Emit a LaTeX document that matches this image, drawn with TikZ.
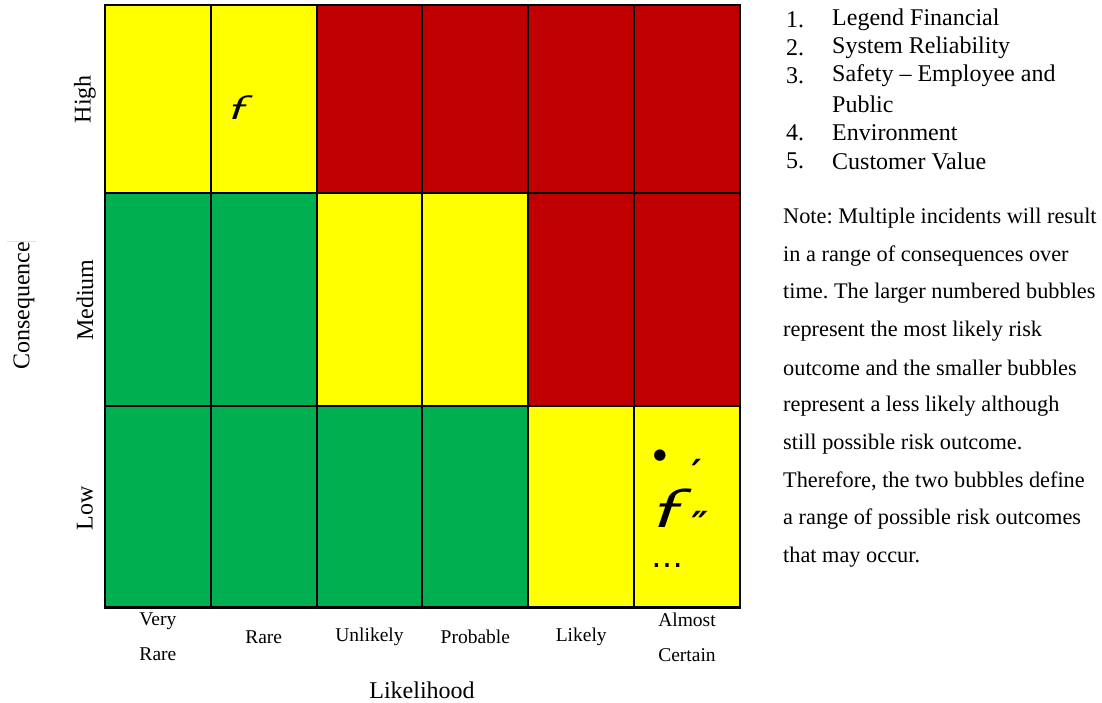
\documentclass[tikz,border=0pt]{standalone}
\usepackage{fontspec}
\setmainfont{Liberation Serif}
\newfontfamily\symfont{DejaVu Sans}
\definecolor{riskY}{HTML}{FFFF00}
\definecolor{riskR}{HTML}{C00000}
\definecolor{riskG}{HTML}{00B050}
\frenchspacing
\tikzset{
  cell/.style={draw=black, line width=2pt, minimum width=105.83pt, inner sep=0pt, outer sep=0pt},
  tick/.style={font=\fontsize{19.5}{35}\selectfont, align=center, inner sep=0pt},
  axis/.style={font=\fontsize{24}{28}\selectfont, inner sep=0pt},
  legnum/.style={font=\fontsize{24}{28}\selectfont, anchor=west, inner sep=0pt},
  legtxt/.style={font=\fontsize{24}{28}\selectfont, anchor=west, inner sep=0pt},
  note/.style={font=\fontsize{22.3}{26}\selectfont, anchor=west, inner sep=0pt},
  hookf/.style={font=\sffamily\itshape, inner sep=0pt, xscale=1.6},
  glyph/.style={font=\symfont, inner sep=0pt},
}
\begin{document}
\begin{tikzpicture}[x=1pt,y=-1pt]
\useasboundingbox (0,0) rectangle (1102,702);
% grid cells
\foreach \r/\cy/\h/\cols in {h/99/188/{riskY,riskY,riskR,riskR,riskR,riskR},
                             m/299.5/213/{riskG,riskG,riskY,riskY,riskR,riskR},
                             l/506.5/202/{riskG,riskG,riskG,riskG,riskY,riskY}}{
  \foreach \c [count=\i] in \cols {
    \node[cell, fill=\c, minimum height=\h pt] (cell-\r-\i) at ({105+(\i-0.5)*105.83},\cy) {};
  }
}
% outer border
\draw[line width=2.4pt] (105,5) rectangle (740,607);
% symbols in cells
\node[hookf] (fa) at (235,108) {\fontsize{34}{34}\selectfont ƒ};
\node[glyph] (bul) at (660,456) {\fontsize{15}{15}\selectfont ●};
\node[glyph, xslant=0.2] (pr1) at (695,472) {\fontsize{36}{36}\selectfont\bfseries ′};
\node[hookf] (fb) at (663,508) {\fontsize{55}{55}\selectfont ƒ};
\node[glyph, xslant=0.2] (pr2) at (698,524) {\fontsize{36}{36}\selectfont\bfseries ″};
\node[glyph] (ell) at (667,566) {\fontsize{32}{32}\selectfont …};
% row labels
\node[axis, rotate=90] (lhigh) at (85,99) {High};
\node[axis, rotate=90] (lmed) at (85,300) {Medium};
\node[axis, rotate=90] (llow) at (85,508) {Low};
\node[axis, rotate=90] (lcons) at (24,306) {Consequence};
\coordinate (ya) at (7,241);
\coordinate (yb) at (36,241);
\draw[riskY, line width=1pt] (ya) -- (yb);
% column labels
\node[tick] (t1) at (157.9,637) {Very\\Rare};
\node[tick] (t2) at (263.7,637) {Rare};
\node[tick] (t3) at (369.5,637) {Unlikely};
\node[tick] (t4) at (475.4,637) {Probable};
\node[tick] (t5) at (581.2,637) {Likely};
\node[tick] (t6) at (687,637) {Almost\\Certain};
\node[axis] (lik) at (422,690) {Likelihood};
% legend
\foreach \n/\y/\t in {1./20/Legend Financial, 2./48/System Reliability,
                      3./76/Safety – Employee and, 4./133/Environment, 5./161/Customer Value}{
  \node[legnum] (num\n) at (786,\y) {\n};
  \node[legtxt] (txt\n) at (832,\y) {\t};
}
\node[legtxt] (txtpub) at (832,104) {Public};
% note
\foreach \y/\t [count=\k] in {218/Note: Multiple incidents will result,
  256/in a range of consequences over,
  293/time. The larger numbered bubbles,
  331/represent the most likely risk,
  368/outcome and the smaller bubbles,
  406/represent a less likely although,
  444/still possible risk outcome.,
  481/{Therefore, the two bubbles define},
  519/a range of possible risk outcomes,
  557/that may occur.}{
  \node[note] (note\k) at (783,\y) {\t};
}
\end{tikzpicture}
\end{document}
